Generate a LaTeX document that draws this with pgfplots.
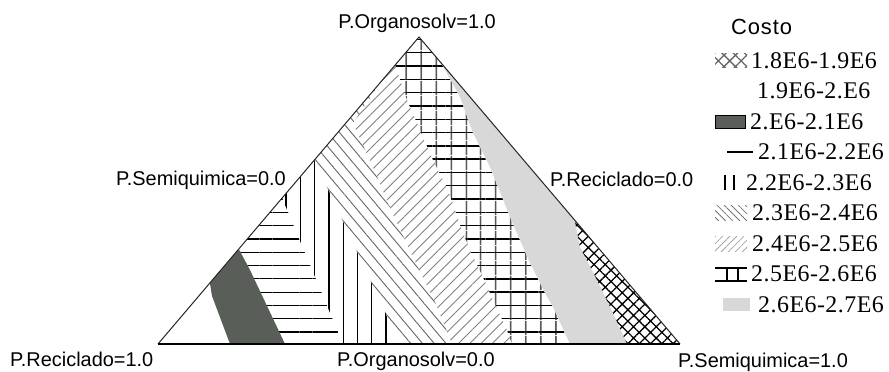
\documentclass[border=0pt]{standalone}
\usepackage{fontspec}
\setmainfont{Liberation Sans}
\newfontfamily\legserif[LetterSpace=2]{Liberation Serif}
\usepackage{pgfplots}
\pgfplotsset{compat=1.18}
\usetikzlibrary{patterns.meta}

\definecolor{darkband}{RGB}{90,94,88}
\definecolor{lightband}{RGB}{216,216,216}

% hatchings of the cost bands
\tikzset{
  hatch cross/.style={pattern={Hatch[angle=45,distance=8bp,line width=1.3bp]}, pattern color=black},
  hatch horiz/.style={pattern={Lines[angle=0,distance=13.3bp,line width=1.2bp]}, pattern color=black},
  hatch vert/.style={pattern={Lines[angle=90,distance=14.3bp,line width=1.3bp]}, pattern color=black},
  hatch back/.style={pattern={Lines[angle=-50,distance=9bp,line width=0.9bp]}, pattern color=black!60},
  hatch fwd/.style={pattern={Lines[angle=45,distance=8bp,line width=0.9bp]}, pattern color=black!50},
  hatch gridh/.style={pattern={Lines[angle=0,distance=13.3bp,line width=1.4bp]}, pattern color=black},
  hatch gridv/.style={pattern={Lines[angle=90,distance=15bp,line width=1.4bp]}, pattern color=black},
}

\begin{document}
\begin{tikzpicture}
\begin{axis}[name=ax, scale only axis, width=889bp, height=372bp,
  xmin=0, xmax=889, ymin=0, ymax=372, y dir=reverse,
  axis lines=none, ticks=none, clip=false]

% ---- contour bands of the mixture triangle ----
% 1.9E6-2.E6 (blank)
\addplot[fill=white, draw=none] coordinates {(158,344)(209.9,283)(212,296)(230,344)} -- cycle;
% 2.E6-2.1E6 (solid)
\addplot[fill=darkband, draw=none] coordinates {(209.9,283)(238.8,249)(250,270)(285,344)(230,344)(212,296)} -- cycle;
% 2.1E6-2.2E6 (horizontal lines)
\addplot[draw=none, hatch horiz] coordinates {(238.8,249)(282.1,198)(343,344)(285,344)(250,270)} -- cycle;
% 2.2E6-2.3E6 (vertical lines)
\addplot[draw=none, hatch vert] coordinates {(282.1,198)(314.4,160)(400,344)(343,344)} -- cycle;
% 2.3E6-2.4E6 (back slashes)
\addplot[draw=none, hatch back] coordinates {(314.4,160)(380.7,82)(353,123)(372,165)(392,212)(413,257)(435,302)(452,344)(400,344)} -- cycle;
% 2.4E6-2.5E6 (forward slashes)
\addplot[draw=none, hatch fwd] coordinates {(380.7,82)(395.2,65)(407,100)(420,130)(433,160)(448,190)(460,225)(470,250)(482,275)(493,300)(507,330)(512,344)(452,344)(435,302)(413,257)(392,212)(372,165)(353,123)} -- cycle;
% 2.5E6-2.6E6 (grid)
\addplot[draw=none, hatch gridh] coordinates {(395.2,65)(419,37)(440,61)(460,97)(473,133)(490,167)(510,217)(530,263)(545,293)(553,307)(570,344)(512,344)(507,330)(493,300)(482,275)(470,250)(460,225)(448,190)(433,160)(420,130)(407,100)} -- cycle;
\addplot[draw=none, hatch gridv] coordinates {(395.2,65)(419,37)(440,61)(460,97)(473,133)(490,167)(510,217)(530,263)(545,293)(553,307)(570,344)(512,344)(507,330)(493,300)(482,275)(470,250)(460,225)(448,190)(433,160)(420,130)(407,100)} -- cycle;
% 2.6E6-2.7E6 (light grey)
\addplot[fill=lightband, draw=none] coordinates {(440,61)(574.6,220)(580,247)(597,280)(613,313)(627,344)(570,344)(553,307)(545,293)(530,263)(510,217)(490,167)(473,133)(460,97)} -- cycle;
% 1.8E6-1.9E6 (cross hatch)
\addplot[draw=none, hatch cross] coordinates {(574.6,220)(680,344)(627,344)(613,313)(597,280)(580,247)} -- cycle;

% triangle outline
\addplot[draw=black!85, line width=1bp] coordinates {(158,344)(419,37)(680,344)};
\addplot[draw=black, line width=1.8bp] coordinates {(158,344)(680,344)};

% vertex and edge labels
\node[anchor=base, inner sep=0, font=\fontsize{20}{20}\selectfont] at (axis cs:417,29) {P.Organosolv=1.0};
\node[anchor=base east, inner sep=0, font=\fontsize{20}{20}\selectfont] at (axis cs:286,185) {P.Semiquimica=0.0};
\node[anchor=base west, inner sep=0, font=\fontsize{20}{20}\selectfont] at (axis cs:550,186) {P.Reciclado=0.0};
\node[anchor=base west, inner sep=0, font=\fontsize{20}{20}\selectfont] at (axis cs:10,366) {P.Reciclado=1.0};
\node[anchor=base west, inner sep=0, font=\fontsize{20}{20}\selectfont] at (axis cs:337,366) {P.Organosolv=0.0};
\node[anchor=base west, inner sep=0, font=\fontsize{20}{20}\selectfont] at (axis cs:678,367) {P.Semiquimica=1.0};

% ---- legend ----
\node[anchor=west, inner sep=0, font=\addfontfeatures{LetterSpace=4}\fontsize{22}{22}\selectfont] at (axis cs:731,27) {Costo};
% swatches
\addplot[draw=none, hatch cross, pattern color=black!60] coordinates {(715,54)(747,54)(747,67)(715,67)} -- cycle;
\addplot[fill=darkband, draw=black, line width=0.8bp] coordinates {(715,115)(745,115)(745,128)(715,128)} -- cycle;
\addplot[draw=black, line width=1.2bp] coordinates {(727,152)(753,152)};
\addplot[draw=black, line width=1.2bp] coordinates {(725,175)(725,190)};
\addplot[draw=black, line width=1.2bp] coordinates {(734,175)(734,190)};
\addplot[draw=none, pattern={Lines[angle=-45,distance=5bp,line width=0.8bp]}, pattern color=black!55] coordinates {(715,205)(747,205)(747,220)(715,220)} -- cycle;
\addplot[draw=none, pattern={Lines[angle=45,distance=5bp,line width=0.8bp]}, pattern color=black!35] coordinates {(715,236)(747,236)(747,251)(715,251)} -- cycle;
\addplot[draw=black, line width=1.2bp] coordinates {(715,268)(747,268)};
\addplot[draw=black, line width=1.2bp] coordinates {(715,281)(747,281)};
\addplot[draw=black, line width=1.2bp] coordinates {(727,268)(727,281)};
\addplot[draw=black, line width=1.2bp] coordinates {(738,268)(738,281)};
\addplot[fill=lightband, draw=none] coordinates {(723,298)(750,298)(750,311)(723,311)} -- cycle;
% entries
\begin{scope}[every node/.style={anchor=west, inner sep=0, font=\legserif\fontsize{24}{24}\selectfont}]
\node at (axis cs:751,60.5) {1.8E6-1.9E6};
\node at (axis cs:757,91) {1.9E6-2.E6};
\node at (axis cs:750,121.5) {2.E6-2.1E6};
\node at (axis cs:758,152) {2.1E6-2.2E6};
\node at (axis cs:746,182.5) {2.2E6-2.3E6};
\node at (axis cs:752,213) {2.3E6-2.4E6};
\node at (axis cs:752,243.5) {2.4E6-2.5E6};
\node at (axis cs:751,274) {2.5E6-2.6E6};
\node at (axis cs:758,304.5) {2.6E6-2.7E6};
\end{scope}
\end{axis}
\pgfresetboundingbox
\useasboundingbox (ax.south west) rectangle (ax.north east);
\end{tikzpicture}
\end{document}
